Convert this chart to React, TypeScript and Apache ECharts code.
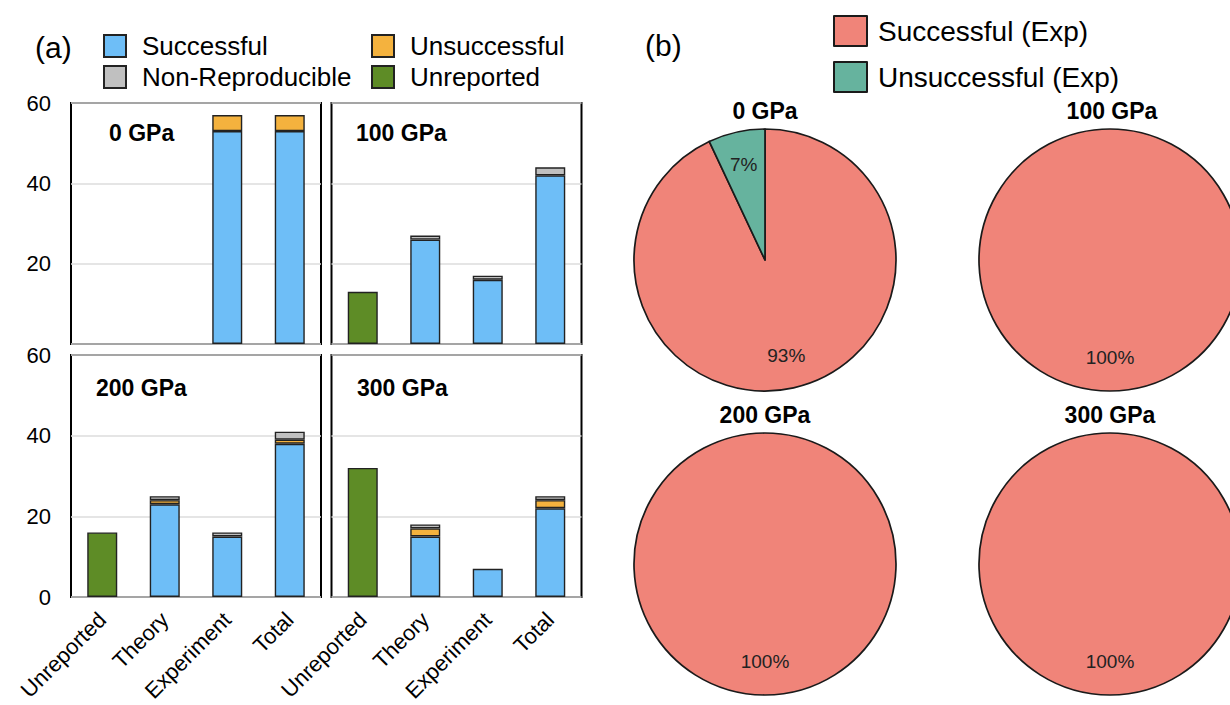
import React, { useEffect, useRef } from 'react';
import * as echarts from 'echarts';

const categories = ['Unreported', 'Theory', 'Experiment', 'Total'];
const pressures = ['0 GPa', '100 GPa', '200 GPa', '300 GPa'];
const barSeriesNames = ['Successful', 'Unsuccessful', 'Non-Reproducible', 'Unreported'];
// per pressure panel: [Unreported, Theory, Experiment, Total]
const successful = [[0, 0, 53, 53], [0, 26, 16, 42], [0, 23, 15, 38], [0, 15, 7, 22]];
const unsuccessful = [[0, 0, 4, 4], [0, 0, 0, 0], [0, 1, 0, 1], [0, 2, 0, 2]];
const nonReproducible = [[0, 0, 0, 0], [0, 1, 1, 2], [0, 1, 1, 2], [0, 1, 0, 1]];
const unreported = [[0, 0, 0, 0], [13, 0, 0, 0], [16, 0, 0, 0], [32, 0, 0, 0]];
const yTicks = [0, 20, 40, 60];

const pieNames = ['Successful (Exp)', 'Unsuccessful (Exp)'];
const expSuccessPct = [93, 100, 100, 100];
const expUnsuccessPct = [7, 0, 0, 0];

const barColors = ['#6EBEF7', '#F4B23E', '#C0C0C0', '#5E8C26'];
const pieColors = ['#F08479', '#66B39E'];
const FONT = 'Liberation Sans, Arial, Helvetica, sans-serif';

const gridBoxes = [
  { left: 71, top: 103, height: 241 },
  { left: 331.5, top: 103, height: 241 },
  { left: 71, top: 355, height: 242 },
  { left: 331.5, top: 355, height: 242 },
];
const panelTitlePos = [[109, 133], [356, 133], [96, 388], [357, 388]];
const pieCenters = [[765, 260], [1110, 260], [765, 564], [1110, 564]];
const pieTitlePos = [[765, 111], [1112, 111], [765, 415], [1110, 415]];
const PIE_R = 131;

function buildOption() {
  const seriesData = [successful, unsuccessful, nonReproducible, unreported];
  const grid = gridBoxes.map((g) => ({
    left: g.left, top: g.top, width: 250, height: g.height,
    show: true, borderColor: '#000', borderWidth: 2, backgroundColor: 'transparent',
  }));
  const xAxis = gridBoxes.map((_, i) => ({
    type: 'category', gridIndex: i, data: categories,
    axisLine: { show: false }, axisTick: { show: false },
    axisLabel: { show: i >= 2, rotate: 45, fontSize: 22, color: '#000', margin: 19, interval: 0, fontFamily: FONT },
  }));
  const yAxis = gridBoxes.map((_, i) => ({
    type: 'value', gridIndex: i,
    min: yTicks[0], max: yTicks[yTicks.length - 1], interval: yTicks[1] - yTicks[0],
    axisLine: { show: false }, axisTick: { show: false },
    splitLine: { lineStyle: { color: '#dcdcdc', width: 1.5 } },
    axisLabel: {
      show: i % 2 === 0, fontSize: 22, color: '#000', margin: 20, fontFamily: FONT,
      formatter: (v: number) => (i < 2 && v === 0 ? '' : String(v)),
    },
  }));
  const series: any[] = [];
  for (let p = 0; p < 4; p++) {
    barSeriesNames.forEach((name, s) => {
      series.push({
        type: 'bar', name, xAxisIndex: p, yAxisIndex: p, stack: 'panel' + p,
        barWidth: '48%',
        data: seriesData[s][p].map((v) => (v === 0 ? null : v)),
        itemStyle: { color: barColors[s], borderColor: '#222', borderWidth: 1.4 },
        emphasis: { disabled: true },
      });
    });
  }
  for (let p = 0; p < 4; p++) {
    const vals = [expSuccessPct[p], expUnsuccessPct[p]];
    const data = pieNames
      .map((name, k) => ({ name, value: vals[k], itemStyle: { color: pieColors[k] } }))
      .filter((d) => d.value > 0);
    series.push({
      type: 'pie', name: 'pie' + p, center: pieCenters[p], radius: PIE_R,
      startAngle: 90, clockwise: true, data,
      label: { show: false }, labelLine: { show: false },
      itemStyle: { borderColor: '#1a1a1a', borderWidth: 1.7 },
      emphasis: { disabled: true },
    });
  }
  for (let p = 0; p < 4; p++) {
    const vals = [expSuccessPct[p], expUnsuccessPct[p]];
    const data = pieNames
      .map((name, k) => ({ name, value: vals[k], itemStyle: { color: 'rgba(0,0,0,0)', borderWidth: 0 } }))
      .filter((d) => d.value > 0);
    series.push({
      type: 'pie', name: 'pieLabel' + p, center: pieCenters[p], radius: [58, PIE_R],
      startAngle: 90, clockwise: true, data, silent: true,
      label: { show: true, position: 'inside', formatter: '{c}%', fontSize: 19, color: '#222', fontFamily: FONT },
      labelLine: { show: false },
      emphasis: { disabled: true },
    });
  }
  const barLegendPos = [[103, 33], [371, 33], [103, 64], [371, 64]];
  const legendOrder = ['Successful', 'Unsuccessful', 'Non-Reproducible', 'Unreported'];
  const legend: any[] = legendOrder.map((name, k) => ({
    data: [{ name, icon: 'rect' }], left: barLegendPos[k][0], top: barLegendPos[k][1],
    padding: 0, itemWidth: 22, itemHeight: 22, selectedMode: false,
    textStyle: { fontSize: 26, color: '#000', fontFamily: FONT, lineHeight: 26, padding: [0, 0, 0, 11] },
  }));
  const pieLegendTop = [15, 61];
  pieNames.forEach((name, k) => {
    legend.push({
      data: [{ name, icon: 'rect' }], left: 833, top: pieLegendTop[k],
      padding: 0, itemWidth: 33, itemHeight: 30, selectedMode: false,
      textStyle: { fontSize: 28, color: '#000', fontFamily: FONT, lineHeight: 30, padding: [0, 0, 0, 6] },
    });
  });
  const graphic: any[] = [
    { type: 'text', x: 35, y: 47, style: { text: '(a)', font: `30px ${FONT}`, fill: '#000', textVerticalAlign: 'middle' } },
    { type: 'text', x: 645, y: 45, style: { text: '(b)', font: `30px ${FONT}`, fill: '#000', textVerticalAlign: 'middle' } },
  ];
  pressures.forEach((t, p) => {
    graphic.push({
      type: 'text', x: panelTitlePos[p][0], y: panelTitlePos[p][1],
      style: { text: t, font: `bold 23px ${FONT}`, fill: '#000', textVerticalAlign: 'middle' },
    });
    graphic.push({
      type: 'text', x: pieTitlePos[p][0], y: pieTitlePos[p][1],
      style: { text: t, font: `bold 23px ${FONT}`, fill: '#000', textAlign: 'center', textVerticalAlign: 'middle' },
    });
  });
  return {
    animation: false,
    backgroundColor: '#fff',
    textStyle: { fontFamily: FONT },
    grid, xAxis, yAxis, series, legend, graphic,
  };
}

export default function App() {
  const ref = useRef<HTMLDivElement>(null);
  useEffect(() => {
    if (!ref.current) return;
    const chart = echarts.init(ref.current, undefined, { renderer: 'svg' });
    chart.setOption(buildOption() as any);
    return () => chart.dispose();
  }, []);
  return <div ref={ref} style={{ position: 'fixed', left: 0, top: 0, width: 1230, height: 705 }} />;
}
